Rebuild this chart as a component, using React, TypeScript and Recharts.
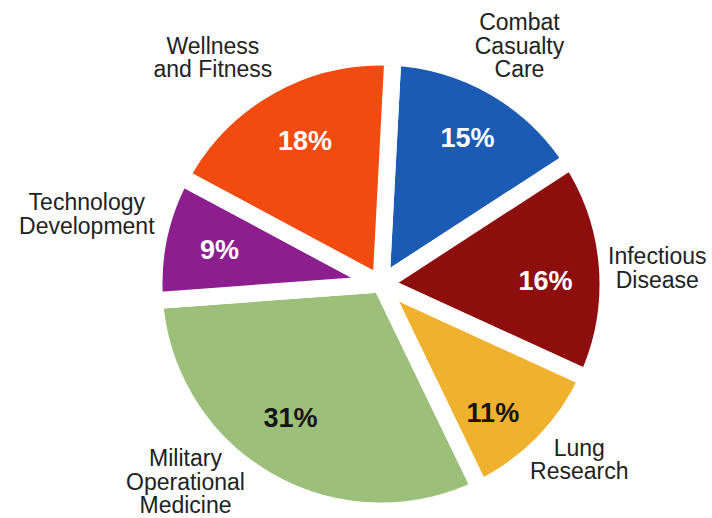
import React from 'react';
import { PieChart, Pie, Cell } from 'recharts';

const categories = [
  'Combat Casualty Care',
  'Infectious Disease',
  'Lung Research',
  'Military Operational Medicine',
  'Technology Development',
  'Wellness and Fitness',
];
const shares = [15, 16, 11, 31, 9, 18];
const labelLines = [
  ['Combat', 'Casualty', 'Care'],
  ['Infectious', 'Disease'],
  ['Lung', 'Research'],
  ['Military', 'Operational', 'Medicine'],
  ['Technology', 'Development'],
  ['Wellness', 'and Fitness'],
];

const sliceColors = ['#1C5BB3', '#8E0E0E', '#F0B12F', '#9CBF79', '#8D1E90', '#F24B0F'];
const percentColors = ['#ffffff', '#ffffff', '#151515', '#151515', '#ffffff', '#ffffff'];

// label placement tweaks (text only)
const pctNudge = [[4, -4], [0, 8], [-6, 13], [-8, -10], [0, 0], [5, 0]];
const nameNudge = [[6, -9], [12, 3], [9, -10], [-63, -32], [-35, -15], [-38, 4]];

const rows = categories.map((c, i) => ({ name: c, value: shares[i] }));

const RAD = Math.PI / 180;
const FONT = 'Arial, "Liberation Sans", Helvetica, sans-serif';

const renderLabel = (props: any) => {
  const { cx, cy, midAngle, index } = props;
  const cos = Math.cos(-midAngle * RAD);
  const sin = Math.sin(-midAngle * RAD);
  const px = cx + 165 * cos + pctNudge[index][0];
  const py = cy + 165 * sin + pctNudge[index][1];
  const ox = cx + 265 * cos + nameNudge[index][0];
  const oy = cy + 265 * sin + nameNudge[index][1];
  const lines = labelLines[index];
  const lh = 23.5;
  const fs = 23;
  const y0 = oy - ((lines.length - 1) * lh) / 2;
  const pfs = 27;
  return (
    <g key={`lbl-${index}`}>
      <text
        x={px}
        y={py + pfs * 0.358}
        textAnchor="middle"
        fill={percentColors[index]}
        fontSize={pfs}
        fontWeight="bold"
        fontFamily={FONT}
      >
        {`${shares[index]}%`}
      </text>
      <text textAnchor="middle" fill="#222222" fontSize={fs} fontFamily={FONT}>
        {lines.map((l, i) => (
          <tspan key={i} x={ox} y={y0 + i * lh + fs * 0.358}>
            {l}
          </tspan>
        ))}
      </text>
    </g>
  );
};

export default function App() {
  return (
    <div style={{ position: 'absolute', left: 0, top: 0, width: 712, height: 518, background: '#ffffff' }}>
      <PieChart width={712} height={518} margin={{ top: 0, right: 0, bottom: 0, left: 0 }}>
        <Pie
          data={rows}
          dataKey="value"
          nameKey="name"
          cx={381}
          cy={284}
          outerRadius={227}
          startAngle={87}
          endAngle={-273}
          stroke="#ffffff"
          strokeWidth={17}
          labelLine={false}
          label={renderLabel}
          isAnimationActive={false}
        >
          {rows.map((r, i) => (
            <Cell key={r.name} fill={sliceColors[i]} stroke="#ffffff" strokeWidth={17} />
          ))}
        </Pie>
      </PieChart>
    </div>
  );
}
